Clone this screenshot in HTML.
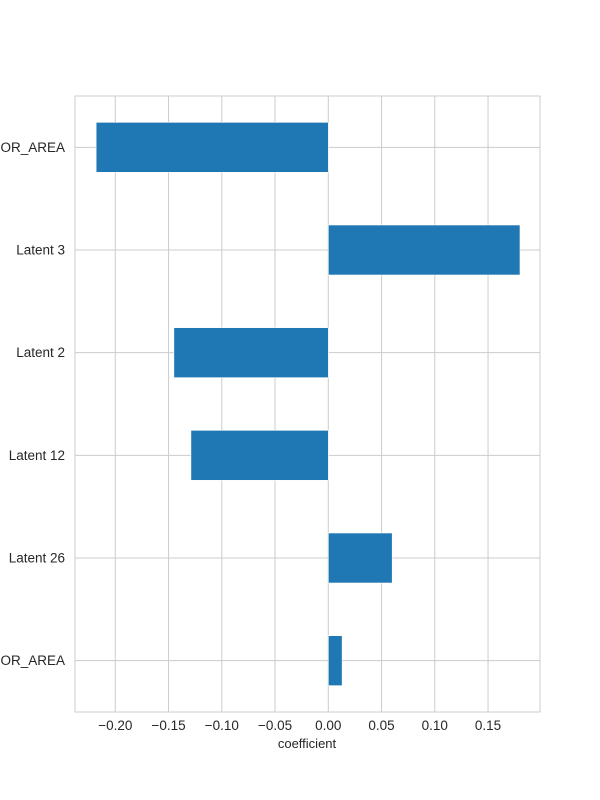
<!DOCTYPE html>
<html><head><meta charset="utf-8"><style>body{margin:0;background:#fff}svg{display:block}text{font-family:"Liberation Sans",Arial,sans-serif;fill:#262626}</style></head>
<body>
<svg id="chart" width="600" height="800">
<g id="grid"></g><g id="bars"></g><g id="labels"></g>
<rect x="75" y="96" width="465" height="616" fill="none" stroke="#cccccc" stroke-width="1"/>
<text x="307" y="748" font-size="13" text-anchor="middle">coefficient</text>
</svg>
<script>
const categories = ["FLOOR_AREA", "Latent 3", "Latent 2", "Latent 12", "Latent 26", "FLOOR_AREA"];
const values = [-0.218, 0.180, -0.145, -0.129, 0.060, 0.013];
const xTicks = [-0.20, -0.15, -0.10, -0.05, 0.00, 0.05, 0.10, 0.15];
const xTickLabels = ["\u22120.20", "\u22120.15", "\u22120.10", "\u22120.05", "0.00", "0.05", "0.10", "0.15"];

const NS = "http://www.w3.org/2000/svg";
const plotTop = 96, plotBottom = 712, band = (plotBottom - plotTop) / categories.length;
function xScale(v) { return 328.3 + v * 1065; }
function yScale(i) { return plotTop + band * (i + 0.5); }
function mk(tag, attrs, parent) {
  const e = document.createElementNS(NS, tag);
  for (const k in attrs) e.setAttribute(k, attrs[k]);
  parent.appendChild(e);
  return e;
}
const grid = document.getElementById("grid"), bars = document.getElementById("bars"), labels = document.getElementById("labels");
xTicks.forEach((t, i) => {
  const x = xScale(t);
  const l = mk("line", {x1: x, x2: x, y1: plotTop, y2: plotBottom, stroke: "#cccccc", "stroke-width": 1}, grid);
  
  
  const tx = mk("text", {x: x, y: 730, "font-size": 13.5, "text-anchor": "middle"}, labels);
  tx.textContent = xTickLabels[i];
  
  
});
categories.forEach((c, i) => {
  const y = yScale(i);
  const l = mk("line", {x1: 75, x2: 540, y1: y, y2: y, stroke: "#cccccc", "stroke-width": 1}, grid);
  
  
  const tx = mk("text", {x: 65, y: y + 4.5, "font-size": 13.5, "text-anchor": "end"}, labels);
  tx.textContent = c;
  
  
  const x0 = xScale(0), x1 = xScale(values[i]);
  const r = mk("rect", {x: Math.min(x0, x1), y: y - 25, width: Math.abs(x1 - x0), height: 50, fill: "#1f77b4", stroke: "#ffffff", "stroke-width": 0.6}, bars);
  
  
});
</script>
</body></html>
